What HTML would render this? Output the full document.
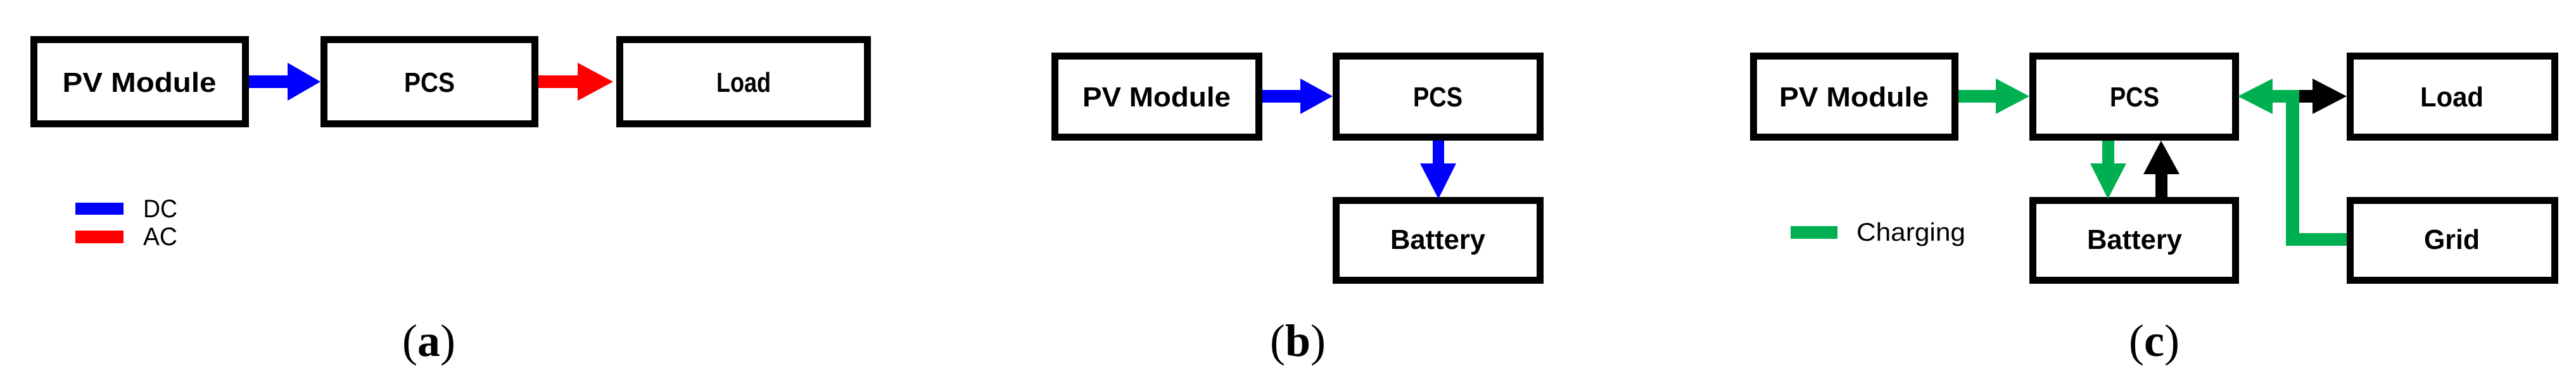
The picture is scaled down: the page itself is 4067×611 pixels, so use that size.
<!DOCTYPE html>
<html><head><style>html,body{margin:0;padding:0;background:#fff}svg{display:block}</style></head>
<body>
<svg width="4067" height="611" viewBox="0 0 4067 611" xmlns="http://www.w3.org/2000/svg">
<g fill="none" stroke="#000" stroke-width="11">
<!-- a -->
<rect x="53.5" y="62.5" width="334" height="133"/>
<rect x="511.5" y="62.5" width="333" height="133"/>
<rect x="978.5" y="62.5" width="391" height="133"/>
<!-- b -->
<rect x="1665.5" y="88.5" width="322" height="128"/>
<rect x="2109.5" y="88.5" width="322" height="128"/>
<rect x="2109.5" y="316.5" width="322" height="126"/>
<!-- c -->
<rect x="2768.5" y="88.5" width="318" height="128"/>
<rect x="3209.5" y="88.5" width="320" height="128"/>
<rect x="3710.5" y="88.5" width="323" height="128"/>
<rect x="3209.5" y="316.5" width="320" height="126"/>
<rect x="3710.5" y="316.5" width="323" height="126"/>
</g>
<!-- a arrows -->
<polygon fill="#0000ff" points="393,119 454,119 454,99 506,129 454,159 454,139 393,139"/>
<polygon fill="#ff0000" points="850,119 912,119 912,99 968,129 912,159 912,139 850,139"/>
<rect x="119" y="320" width="76" height="19" fill="#0000ff"/>
<rect x="119" y="364" width="76" height="20" fill="#ff0000"/>
<!-- b arrows -->
<polygon fill="#0000ff" points="1993,142 2053,142 2053,124 2104,152 2053,180 2053,162 1993,162"/>
<polygon fill="#0000ff" points="2262,222 2280,222 2280,258 2299,258 2271,314 2242,258 2262,258"/>
<!-- c arrows -->
<polygon fill="#00b050" points="3092,142 3151,142 3151,124 3204,152 3151,180 3151,162 3092,162"/>
<polygon fill="#000" points="3628,142 3651,142 3651,124 3705,152 3651,180 3651,162 3628,162"/>
<polygon fill="#00b050" points="3630,142 3588,142 3588,124 3533,152 3588,180 3588,162 3609,162 3609,388 3705,388 3705,368 3630,368"/>
<polygon fill="#00b050" points="3319,222 3338,222 3338,258 3357,258 3328,314 3300,258 3319,258"/>
<polygon fill="#000" points="3403,311 3422,311 3422,275 3441,275 3412,222 3384,275 3403,275"/>
<rect x="2827" y="357" width="74" height="20" fill="#00b050"/>
<g font-family="Liberation Sans, sans-serif" font-weight="bold" font-size="44" fill="#000" text-anchor="middle">
<text x="220" y="145" textLength="243" lengthAdjust="spacingAndGlyphs">PV Module</text>
<text x="678" y="145" textLength="80" lengthAdjust="spacingAndGlyphs">PCS</text>
<text x="1174" y="145" textLength="86" lengthAdjust="spacingAndGlyphs">Load</text>
<text x="1826" y="168" textLength="234" lengthAdjust="spacingAndGlyphs">PV Module</text>
<text x="2270" y="168" textLength="78" lengthAdjust="spacingAndGlyphs">PCS</text>
<text x="2270" y="393" textLength="150" lengthAdjust="spacingAndGlyphs">Battery</text>
<text x="2927" y="168" textLength="236" lengthAdjust="spacingAndGlyphs">PV Module</text>
<text x="3370" y="168" textLength="78" lengthAdjust="spacingAndGlyphs">PCS</text>
<text x="3871" y="168" textLength="100" lengthAdjust="spacingAndGlyphs">Load</text>
<text x="3370" y="393" textLength="150" lengthAdjust="spacingAndGlyphs">Battery</text>
<text x="3871" y="393" textLength="88" lengthAdjust="spacingAndGlyphs">Grid</text>
</g>
<g font-family="Liberation Sans, sans-serif" font-size="40" fill="#000">
<text x="226" y="343" textLength="54" lengthAdjust="spacingAndGlyphs">DC</text>
<text x="226" y="387" textLength="54" lengthAdjust="spacingAndGlyphs">AC</text>
<text x="2931" y="380" textLength="172" lengthAdjust="spacingAndGlyphs">Charging</text>
</g>
<g font-family="Liberation Serif, serif" font-size="72" fill="#000" text-anchor="middle">
<text x="677" y="562">(<tspan font-weight="bold">a</tspan>)</text>
<text x="2049" y="562">(<tspan font-weight="bold">b</tspan>)</text>
<text x="3401" y="562">(<tspan font-weight="bold">c</tspan>)</text>
</g>
</svg>
</body></html>
